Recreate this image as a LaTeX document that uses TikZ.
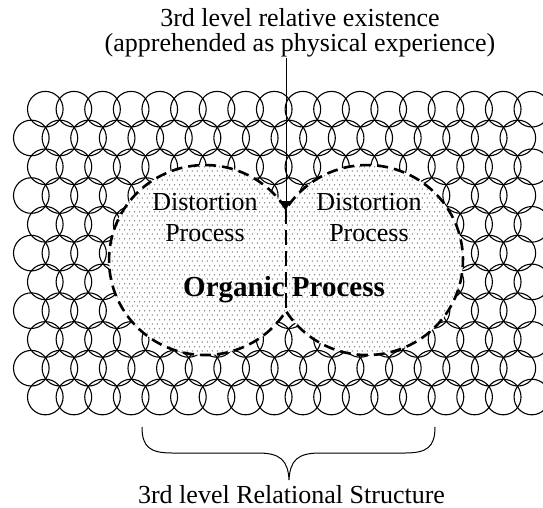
\documentclass[tikz,border=0pt]{standalone}
\usepackage{fontspec}
\setmainfont{Liberation Serif}
\usetikzlibrary{arrows.meta,patterns}

% grey stipple for the process region (staggered rows of dots)
\pgfdeclarepatternformonly{fdots}{\pgfpointorigin}{\pgfpoint{5.4pt}{8.6pt}}{\pgfpoint{5.4pt}{8.6pt}}{%
  \pgfpathcircle{\pgfpoint{1.35pt}{2.15pt}}{0.7pt}%
  \pgfpathcircle{\pgfpoint{4.05pt}{6.45pt}}{0.7pt}%
  \pgfusepath{fill}%
}

\begin{document}
\begin{tikzpicture}[x=1pt,y=-1pt,
  ring/.style={draw=black, line width=1.1pt},
  lbl/.style={font=\fontsize{26}{31}\selectfont, inner sep=0pt, anchor=base},
  boldlbl/.style={font=\fontsize{29}{34}\selectfont\bfseries, inner sep=0pt, anchor=base},
  outline/.style={line width=2.6pt, dash pattern=on 11pt off 6pt},
  chord/.style={line width=2.6pt, dash pattern=on 15pt off 6pt},
  thin/.style={line width=1pt},
]
\useasboundingbox (0,0) rectangle (543,508);

% lattice of overlapping rings (relational structure)
\begin{scope}
  \clip (0,0) rectangle (543,508);
  \foreach \j in {0,...,10}{
    \pgfmathsetmacro{\yy}{109.2+28.78*\j}
    \pgfmathsetmacro{\xo}{mod(\j,2)==0 ? 45.3 : 31.3}
    \foreach \k in {0,...,17}{
      \draw[ring] ({\xo+28.62*\k},\yy) circle[radius=17.8pt];
    }
  }
\end{scope}

% two overlapping distortion regions
\coordinate (lc) at (205,260);
\coordinate (rc) at (367,260);
\coordinate (top) at (286,209);
\coordinate (bot) at (286,311);

\draw[outline, preaction={fill=white}, preaction={pattern=fdots, pattern color=black!70}]
  (top) arc[start angle=32.5, end angle=327.5, x radius=96pt, y radius=95pt]
        arc[start angle=212.5, end angle=507.5, x radius=96pt, y radius=95pt] -- cycle;

\draw[chord] (top) -- (bot);

% labels
\node[lbl] (dl1) at (205,210) {Distortion};
\node[lbl] (dl2) at (205,241.7) {Process};
\node[lbl] (dr1) at (369,210) {Distortion};
\node[lbl] (dr2) at (369,241.7) {Process};
\node[boldlbl] (org) at (284,296.7) {Organic Process};

% heading and arrow
\node[lbl] (h1) at (300,27) {3rd level relative existence};
\node[lbl] (h2) at (300,52) {(apprehended as physical experience)};
\coordinate (src) at (286,58);
\draw[thin, -{Triangle[width=10pt,length=8pt]}] (src) -- (top);

% brace and caption
\coordinate (bl) at (142,427);
\coordinate (br) at (435,427);
\coordinate (btip) at (289,480);
\draw[thin] (bl) .. controls (142,447) and (150,453) .. (172,453) -- (258,453)
  .. controls (280,453) and (288,460) .. (btip)
  .. controls (290,460) and (298,453) .. (320,453) -- (405,453)
  .. controls (427,453) and (435,447) .. (br);
\node[lbl] (cap) at (291.5,503) {3rd level Relational Structure};
\end{tikzpicture}
\end{document}
